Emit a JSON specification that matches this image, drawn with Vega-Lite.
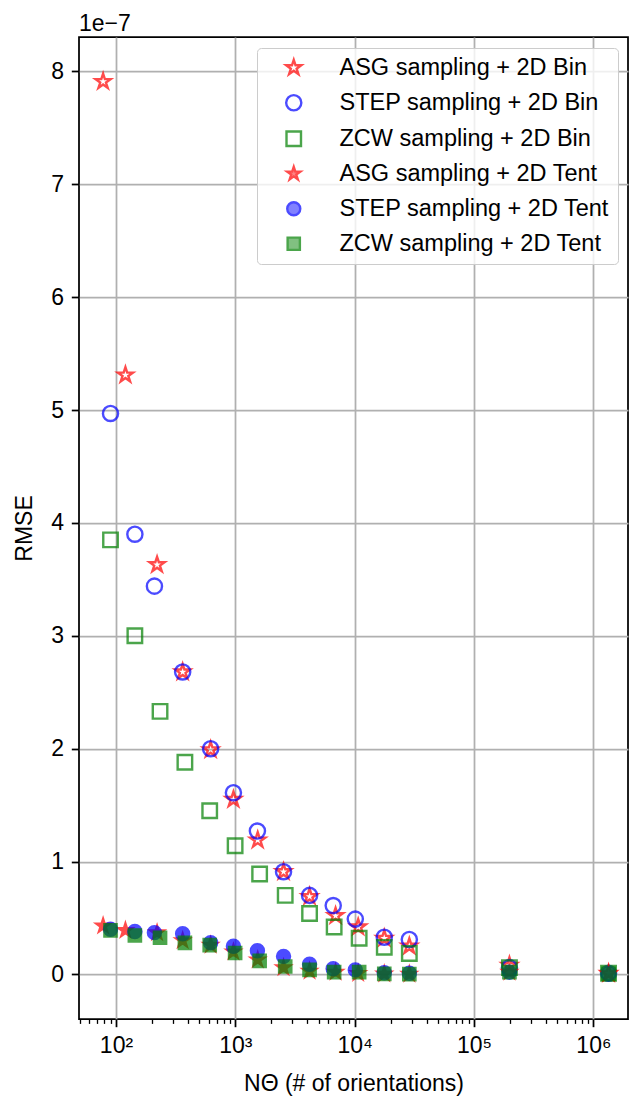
{
  "$schema": "https://vega.github.io/schema/vega-lite/v6.json",
  "width": 549,
  "height": 982,
  "autosize": "none",
  "padding": {"left": 79, "top": 37, "right": 2, "bottom": 81},
  "background": "white",
  "title": {"text": "1e−7", "anchor": "start", "frame": "group", "fontSize": 23, "fontWeight": "normal", "font": "Liberation Sans", "color": "black", "offset": 1},
  "config": {
    "font": "Liberation Sans",
    "view": {"stroke": "black", "strokeWidth": 1.75},
    "axis": {
      "labelFont": "Liberation Sans",
      "titleFont": "Liberation Sans",
      "labelFontSize": 23,
      "titleFontSize": 23,
      "titleFontWeight": "normal",
      "labelColor": "black",
      "titleColor": "black",
      "tickColor": "black",
      "domain": false,
      "gridColor": "#b0b0b0",
      "gridWidth": 1.75,
      "labelPadding": 7.7
    }
  },
  "data": {"values": [
    {"N": 78, "rmse": 7.91e-7, "series": "ASG sampling + 2D Bin"},
    {"N": 120, "rmse": 5.31e-7, "series": "ASG sampling + 2D Bin"},
    {"N": 221, "rmse": 3.63e-7, "series": "ASG sampling + 2D Bin"},
    {"N": 362, "rmse": 2.68e-7, "series": "ASG sampling + 2D Bin"},
    {"N": 621, "rmse": 1.99e-7, "series": "ASG sampling + 2D Bin"},
    {"N": 964, "rmse": 1.55e-7, "series": "ASG sampling + 2D Bin"},
    {"N": 1540, "rmse": 1.19e-7, "series": "ASG sampling + 2D Bin"},
    {"N": 2535, "rmse": 0.91e-7, "series": "ASG sampling + 2D Bin"},
    {"N": 4188, "rmse": 0.69e-7, "series": "ASG sampling + 2D Bin"},
    {"N": 6915, "rmse": 0.52e-7, "series": "ASG sampling + 2D Bin"},
    {"N": 10700, "rmse": 0.42e-7, "series": "ASG sampling + 2D Bin"},
    {"N": 17700, "rmse": 0.32e-7, "series": "ASG sampling + 2D Bin"},
    {"N": 28700, "rmse": 0.25e-7, "series": "ASG sampling + 2D Bin"},
    {"N": 198000, "rmse": 0.08e-7, "series": "ASG sampling + 2D Bin"},
    {"N": 1340000, "rmse": 0.01e-7, "series": "ASG sampling + 2D Bin"},
    {"N": 90, "rmse": 4.97e-7, "series": "STEP sampling + 2D Bin"},
    {"N": 144, "rmse": 3.90e-7, "series": "STEP sampling + 2D Bin"},
    {"N": 210, "rmse": 3.44e-7, "series": "STEP sampling + 2D Bin"},
    {"N": 362, "rmse": 2.68e-7, "series": "STEP sampling + 2D Bin"},
    {"N": 621, "rmse": 2.00e-7, "series": "STEP sampling + 2D Bin"},
    {"N": 964, "rmse": 1.61e-7, "series": "STEP sampling + 2D Bin"},
    {"N": 1531, "rmse": 1.27e-7, "series": "STEP sampling + 2D Bin"},
    {"N": 2535, "rmse": 0.91e-7, "series": "STEP sampling + 2D Bin"},
    {"N": 4188, "rmse": 0.70e-7, "series": "STEP sampling + 2D Bin"},
    {"N": 6610, "rmse": 0.61e-7, "series": "STEP sampling + 2D Bin"},
    {"N": 10120, "rmse": 0.49e-7, "series": "STEP sampling + 2D Bin"},
    {"N": 17700, "rmse": 0.33e-7, "series": "STEP sampling + 2D Bin"},
    {"N": 28700, "rmse": 0.31e-7, "series": "STEP sampling + 2D Bin"},
    {"N": 198000, "rmse": 0.06e-7, "series": "STEP sampling + 2D Bin"},
    {"N": 1340000, "rmse": 0.01e-7, "series": "STEP sampling + 2D Bin"},
    {"N": 90, "rmse": 3.85e-7, "series": "ZCW sampling + 2D Bin"},
    {"N": 144, "rmse": 3.00e-7, "series": "ZCW sampling + 2D Bin"},
    {"N": 234, "rmse": 2.33e-7, "series": "ZCW sampling + 2D Bin"},
    {"N": 378, "rmse": 1.88e-7, "series": "ZCW sampling + 2D Bin"},
    {"N": 610, "rmse": 1.45e-7, "series": "ZCW sampling + 2D Bin"},
    {"N": 996, "rmse": 1.14e-7, "series": "ZCW sampling + 2D Bin"},
    {"N": 1598, "rmse": 0.89e-7, "series": "ZCW sampling + 2D Bin"},
    {"N": 2618, "rmse": 0.70e-7, "series": "ZCW sampling + 2D Bin"},
    {"N": 4188, "rmse": 0.54e-7, "series": "ZCW sampling + 2D Bin"},
    {"N": 6730, "rmse": 0.42e-7, "series": "ZCW sampling + 2D Bin"},
    {"N": 10900, "rmse": 0.32e-7, "series": "ZCW sampling + 2D Bin"},
    {"N": 17700, "rmse": 0.24e-7, "series": "ZCW sampling + 2D Bin"},
    {"N": 28700, "rmse": 0.185e-7, "series": "ZCW sampling + 2D Bin"},
    {"N": 198000, "rmse": 0.06e-7, "series": "ZCW sampling + 2D Bin"},
    {"N": 1340000, "rmse": 0.01e-7, "series": "ZCW sampling + 2D Bin"},
    {"N": 78, "rmse": 0.43e-7, "series": "ASG sampling + 2D Tent"},
    {"N": 120, "rmse": 0.39e-7, "series": "ASG sampling + 2D Tent"},
    {"N": 221, "rmse": 0.37e-7, "series": "ASG sampling + 2D Tent"},
    {"N": 362, "rmse": 0.30e-7, "series": "ASG sampling + 2D Tent"},
    {"N": 621, "rmse": 0.26e-7, "series": "ASG sampling + 2D Tent"},
    {"N": 964, "rmse": 0.20e-7, "series": "ASG sampling + 2D Tent"},
    {"N": 1540, "rmse": 0.13e-7, "series": "ASG sampling + 2D Tent"},
    {"N": 2535, "rmse": 0.06e-7, "series": "ASG sampling + 2D Tent"},
    {"N": 4188, "rmse": 0.03e-7, "series": "ASG sampling + 2D Tent"},
    {"N": 6915, "rmse": 0.02e-7, "series": "ASG sampling + 2D Tent"},
    {"N": 10700, "rmse": 0.01e-7, "series": "ASG sampling + 2D Tent"},
    {"N": 17700, "rmse": 0.005e-7, "series": "ASG sampling + 2D Tent"},
    {"N": 28700, "rmse": 0.003e-7, "series": "ASG sampling + 2D Tent"},
    {"N": 198000, "rmse": 0.02e-7, "series": "ASG sampling + 2D Tent"},
    {"N": 1340000, "rmse": 0.005e-7, "series": "ASG sampling + 2D Tent"},
    {"N": 90, "rmse": 0.40e-7, "series": "STEP sampling + 2D Tent"},
    {"N": 144, "rmse": 0.38e-7, "series": "STEP sampling + 2D Tent"},
    {"N": 210, "rmse": 0.37e-7, "series": "STEP sampling + 2D Tent"},
    {"N": 362, "rmse": 0.36e-7, "series": "STEP sampling + 2D Tent"},
    {"N": 621, "rmse": 0.28e-7, "series": "STEP sampling + 2D Tent"},
    {"N": 964, "rmse": 0.25e-7, "series": "STEP sampling + 2D Tent"},
    {"N": 1531, "rmse": 0.21e-7, "series": "STEP sampling + 2D Tent"},
    {"N": 2535, "rmse": 0.16e-7, "series": "STEP sampling + 2D Tent"},
    {"N": 4188, "rmse": 0.09e-7, "series": "STEP sampling + 2D Tent"},
    {"N": 6610, "rmse": 0.05e-7, "series": "STEP sampling + 2D Tent"},
    {"N": 10120, "rmse": 0.04e-7, "series": "STEP sampling + 2D Tent"},
    {"N": 17700, "rmse": 0.015e-7, "series": "STEP sampling + 2D Tent"},
    {"N": 28700, "rmse": 0.01e-7, "series": "STEP sampling + 2D Tent"},
    {"N": 198000, "rmse": 0.02e-7, "series": "STEP sampling + 2D Tent"},
    {"N": 1340000, "rmse": 0.005e-7, "series": "STEP sampling + 2D Tent"},
    {"N": 90, "rmse": 0.39e-7, "series": "ZCW sampling + 2D Tent"},
    {"N": 144, "rmse": 0.345e-7, "series": "ZCW sampling + 2D Tent"},
    {"N": 234, "rmse": 0.325e-7, "series": "ZCW sampling + 2D Tent"},
    {"N": 378, "rmse": 0.28e-7, "series": "ZCW sampling + 2D Tent"},
    {"N": 610, "rmse": 0.26e-7, "series": "ZCW sampling + 2D Tent"},
    {"N": 996, "rmse": 0.19e-7, "series": "ZCW sampling + 2D Tent"},
    {"N": 1598, "rmse": 0.12e-7, "series": "ZCW sampling + 2D Tent"},
    {"N": 2618, "rmse": 0.07e-7, "series": "ZCW sampling + 2D Tent"},
    {"N": 4188, "rmse": 0.04e-7, "series": "ZCW sampling + 2D Tent"},
    {"N": 6730, "rmse": 0.02e-7, "series": "ZCW sampling + 2D Tent"},
    {"N": 10900, "rmse": 0.02e-7, "series": "ZCW sampling + 2D Tent"},
    {"N": 17700, "rmse": 0.005e-7, "series": "ZCW sampling + 2D Tent"},
    {"N": 28700, "rmse": 0.003e-7, "series": "ZCW sampling + 2D Tent"},
    {"N": 198000, "rmse": 0.02e-7, "series": "ZCW sampling + 2D Tent"},
    {"N": 1340000, "rmse": 0.005e-7, "series": "ZCW sampling + 2D Tent"}
  ]},
  "mark": {"type": "point", "opacity": 0.7, "strokeWidth": 2.4},
  "encoding": {
    "x": {
      "field": "N", "type": "quantitative",
      "scale": {"type": "log", "domain": [49, 1950000], "nice": false},
      "axis": {
        "title": "NΘ (# of orientations)",
        "values": [50,60,70,80,90,100,200,300,400,500,600,700,800,900,1000,2000,3000,4000,5000,6000,7000,8000,9000,10000,20000,30000,40000,50000,60000,70000,80000,90000,100000,200000,300000,400000,500000,600000,700000,800000,900000,1000000],
        "labelExpr": "abs(log(datum.value)/LN10 - round(log(datum.value)/LN10)) < 0.001 ? '10' + ['⁰','¹','²','³','⁴','⁵','⁶','⁷'][round(log(datum.value)/LN10)] : ''",
        "tickSize": {"condition": {"test": "abs(log(datum.value)/LN10 - round(log(datum.value)/LN10)) < 0.001", "value": 7.7}, "value": 4.4},
        "tickWidth": {"condition": {"test": "abs(log(datum.value)/LN10 - round(log(datum.value)/LN10)) < 0.001", "value": 1.75}, "value": 1.3},
        "gridOpacity": {"condition": {"test": "abs(log(datum.value)/LN10 - round(log(datum.value)/LN10)) < 0.001", "value": 1}, "value": 0},
        "grid": true,
        "labelFlush": false,
        "labelOverlap": false,
        "titlePadding": 15
      }
    },
    "y": {
      "field": "rmse", "type": "quantitative",
      "scale": {"domain": [-3.95e-8, 8.305e-7], "nice": false, "zero": false},
      "axis": {
        "title": "RMSE",
        "values": [0, 1e-7, 2e-7, 3e-7, 4e-7, 5e-7, 6e-7, 7e-7, 8e-7],
        "labelExpr": "'' + round(datum.value*1e7)",
        "tickSize": 7.7,
        "tickWidth": 1.75,
        "grid": true,
        "titlePadding": 14
      }
    },
    "shape": {
      "field": "series", "type": "nominal",
      "scale": {
        "domain": ["ASG sampling + 2D Bin", "STEP sampling + 2D Bin", "ZCW sampling + 2D Bin", "ASG sampling + 2D Tent", "STEP sampling + 2D Tent", "ZCW sampling + 2D Tent"],
        "range": ["M0,-1L0.2245,-0.309L0.9511,-0.309L0.3633,0.118L0.5878,0.809L0,0.382L-0.5878,0.809L-0.3633,0.118L-0.9511,-0.309L-0.2245,-0.309Z", "circle", "square", "M0,-1L0.2245,-0.309L0.9511,-0.309L0.3633,0.118L0.5878,0.809L0,0.382L-0.5878,0.809L-0.3633,0.118L-0.9511,-0.309L-0.2245,-0.309Z", "circle", "square"]
      },
      "legend": {
        "title": null,
        "orient": "none",
        "legendX": 178,
        "legendY": 11,
        "labelFontSize": 23.5,
        "labelFont": "Liberation Sans",
        "labelColor": "black",
        "padding": 8,
        "symbolOffset": 17,
        "labelOffset": 34,
        "rowPadding": 10,
        "fillColor": "rgba(255,255,255,0.8)",
        "strokeColor": "#cccccc",
        "cornerRadius": 4,
        "symbolStrokeWidth": 2.4,
        "symbolOpacity": 0.7,
        "labelLimit": 400
      }
    },
    "stroke": {
      "field": "series", "type": "nominal",
      "scale": {
        "domain": ["ASG sampling + 2D Bin", "STEP sampling + 2D Bin", "ZCW sampling + 2D Bin", "ASG sampling + 2D Tent", "STEP sampling + 2D Tent", "ZCW sampling + 2D Tent"],
        "range": ["#ff0000", "#0000ff", "#008000", "#ff0000", "#0000ff", "#008000"]
      },
      "legend": {"title": null}
    },
    "fill": {
      "field": "series", "type": "nominal",
      "scale": {
        "domain": ["ASG sampling + 2D Bin", "STEP sampling + 2D Bin", "ZCW sampling + 2D Bin", "ASG sampling + 2D Tent", "STEP sampling + 2D Tent", "ZCW sampling + 2D Tent"],
        "range": ["transparent", "transparent", "transparent", "#ff0000", "#0000ff", "#008000"]
      },
      "legend": {"title": null}
    },
    "size": {
      "field": "series", "type": "nominal",
      "scale": {
        "domain": ["ASG sampling + 2D Bin", "STEP sampling + 2D Bin", "ZCW sampling + 2D Bin", "ASG sampling + 2D Tent", "STEP sampling + 2D Tent", "ZCW sampling + 2D Tent"],
        "range": [250, 150, 100, 260, 200, 130]
      },
      "legend": {"title": null}
    }
  }
}
